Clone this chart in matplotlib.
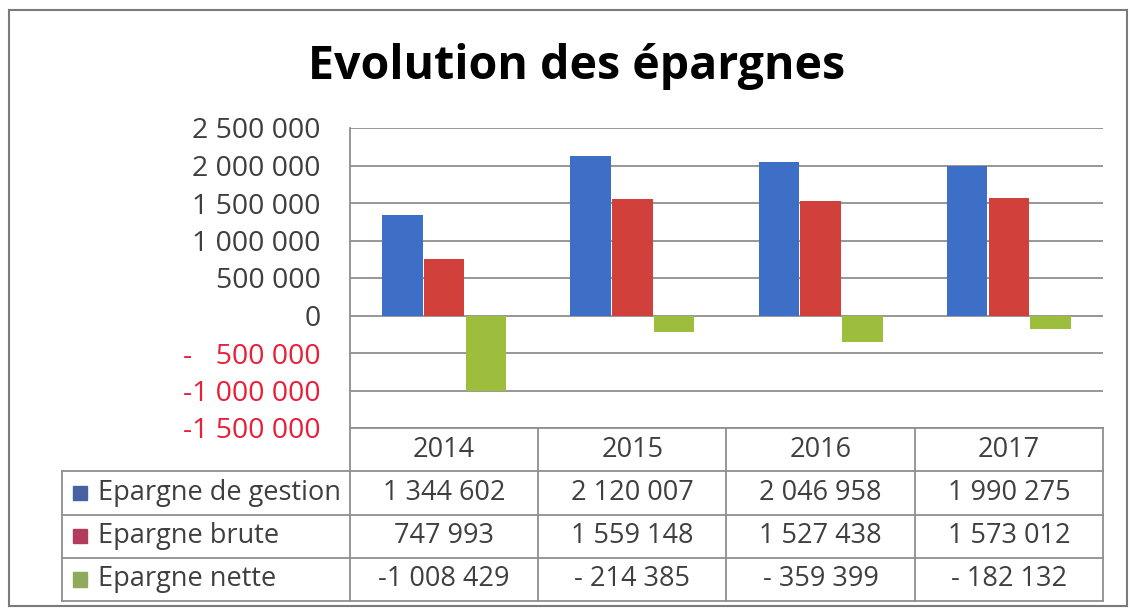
import matplotlib.pyplot as plt
from matplotlib.patches import Rectangle


years = ["2014", "2015", "2016", "2017"]
series = ["Epargne de gestion", "Epargne brute", "Epargne nette"]
gestion = [1344602, 2120007, 2046958, 1990275]
brute = [747993, 1559148, 1527438, 1573012]
nette = [-1008429, -214385, -359399, -182132]
yticks = [-1500000, -1000000, -500000, 0, 500000, 1000000, 1500000, 2000000, 2500000]

bar_colors = ["#3d6fc6", "#d2403c", "#9dbd3d"]
key_colors = ["#4662a2", "#b23c5c", "#90aa5c"]

W, H = 1131, 612
font = "Open Sans"
tick_size = 20.5
cell_size = 19.5
grid_color = "#8f8f8f"


def fmt(v, pad=False):
    s = f"{abs(v):,}".replace(",", " ")
    if v >= 0:
        return s
    if len(s) > 7:
        return "-" + s
    # keep the minus sign in the same column as on the 7-digit labels
    return ("-\u2007 " if pad else "- ") + s


def px(x0, y0, x1, y1):
    # pixel box (top-left origin) -> figure fraction rect
    return [x0 / W, 1 - y1 / H, (x1 - x0) / W, (y1 - y0) / H]


fig = plt.figure(figsize=(W / 100, H / 100), dpi=100)
fig.patch.set_facecolor("white")

fig.add_artist(Rectangle(
    (9 / W, 1 - 606 / H), 1118 / W, 596 / H,
    transform=fig.transFigure, fill=False,
    edgecolor="#7a7a7a", linewidth=1.5
))

fig.text(
    577 / W, 1 - 67 / H, "Evolution des épargnes",
    ha="center", va="center", fontsize=33.5,
    fontweight="bold", family=font, color="black"
)

# chart
ax = fig.add_axes(px(350, 128, 1103, 428))
x = list(range(len(years)))
w = 0.215
for data, color, off in zip([gestion, brute, nette], bar_colors, [-1, 0, 1]):
    ax.bar([i + off * 0.222 for i in x], data, width=w, color=color, zorder=3)

ax.set_xlim(-0.5, len(years) - 0.5)
ax.set_ylim(yticks[0], yticks[-1])
ax.set_yticks(yticks)
ax.set_yticklabels([fmt(v, pad=True) for v in yticks],
                   family=[font, "DejaVu Sans"], fontsize=tick_size)
for lab, v in zip(ax.get_yticklabels(), yticks):
    lab.set_color("#e8203a" if v < 0 else "#3f3f3f")
ax.set_xticks([])
ax.tick_params(axis="y", length=0, pad=21)
ax.grid(True, axis="y", color=grid_color, linewidth=1.3, zorder=0)
for s in ["top", "right", "bottom"]:
    ax.spines[s].set_visible(False)
ax.spines["left"].set_color(grid_color)
ax.spines["left"].set_linewidth(1.3)

# data table under the chart
lab_w = (350 - 62) / ((1103 - 350) / len(years))
tx = fig.add_axes(px(62, 428, 1103, 601))
tx.set_xlim(-0.5 - lab_w, len(years) - 0.5)
tx.set_ylim(len(series) + 1, 0)
tx.axis("off")

line = dict(color=grid_color, linewidth=1.3, clip_on=False)
tx.plot([-0.5, len(years) - 0.5], [0, 0], **line)
for r in range(1, len(series) + 2):
    tx.plot([-0.5 - lab_w, len(years) - 0.5], [r, r], **line)
for c in range(len(years) + 1):
    tx.plot([c - 0.5, c - 0.5], [0, len(series) + 1], **line)
tx.plot([-0.5 - lab_w, -0.5 - lab_w], [1, len(series) + 1], **line)

for i, yr in enumerate(years):
    tx.text(i, 0.5, yr, ha="center", va="center",
            family=font, fontsize=cell_size, color="#3f3f3f")

key = 14 / ((1103 - 350) / len(years))
for r, (name, data, kc) in enumerate(zip(series, [gestion, brute, nette], key_colors)):
    yc = r + 1.5
    tx.add_patch(Rectangle((-0.5 - lab_w + 0.06, yc - 0.17), key, 0.34,
                           color=kc, clip_on=False))
    tx.text(-0.5 - lab_w + 0.19, yc, name, ha="left", va="center",
            family=font, fontsize=cell_size, color="#3f3f3f")
    for i, v in enumerate(data):
        tx.text(i, yc, fmt(v), ha="center", va="center",
                family=font, fontsize=cell_size, color="#3f3f3f")

fig.savefig("out.png", dpi=100)
